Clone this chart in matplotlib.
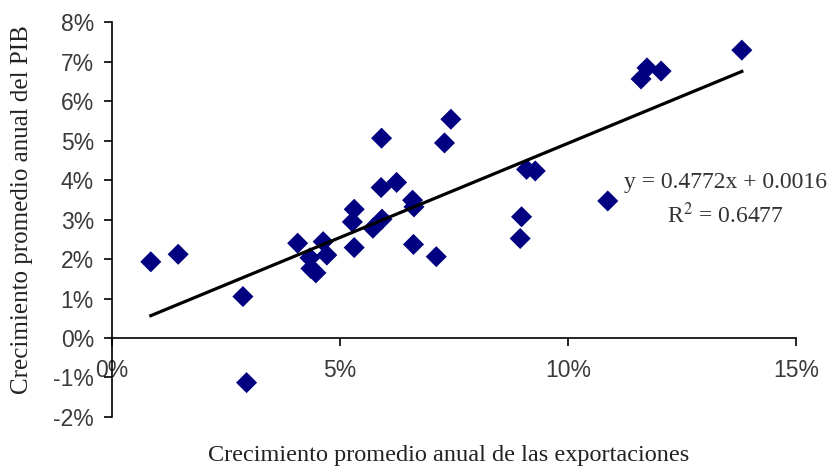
import numpy as np
import matplotlib
matplotlib.use("Agg")
import matplotlib.pyplot as plt
from matplotlib.ticker import PercentFormatter

plt.rcParams["axes.unicode_minus"] = False
plt.rcParams["mathtext.fontset"] = "stix"

# crecimiento promedio anual de exportaciones (x) y del PIB (y), en fracciones
export_growth = [0.0085, 0.0145, 0.0287, 0.0295, 0.0407, 0.0463, 0.0471, 0.0434,
                 0.0436, 0.0447, 0.0531, 0.0531, 0.0527, 0.0572, 0.0592, 0.0661,
                 0.0711, 0.0591, 0.0729, 0.0743, 0.0590, 0.0624, 0.0659, 0.0662,
                 0.1381, 0.1173, 0.1160, 0.1204, 0.0909, 0.0928, 0.1087, 0.0898,
                 0.0895]
gdp_growth = [0.0193, 0.0212, 0.0105, -0.0113, 0.0240, 0.0244, 0.0210, 0.0203,
              0.0176, 0.0165, 0.0229, 0.0326, 0.0294, 0.0278, 0.0301, 0.0237,
              0.0206, 0.0506, 0.0494, 0.0554, 0.0381, 0.0394, 0.0349, 0.0332,
              0.0729, 0.0684, 0.0656, 0.0676, 0.0427, 0.0423, 0.0347, 0.0307,
              0.0252]

slope, intercept, r2 = 0.4772, 0.0016, 0.6477

fig = plt.figure(figsize=(8.38, 4.70), dpi=100)
ax = fig.add_axes([0.1337, 0.1128, 0.8163, 0.8402])

ax.scatter(export_growth, gdp_growth, marker="D", s=115, color="#000080",
           edgecolors="none", zorder=3)

xl = np.array([min(export_growth), max(export_growth)])
ax.plot(xl, slope * xl + intercept, color="black", lw=2.3, zorder=4)

ax.set_xlim(0, 0.15)
ax.set_ylim(-0.02, 0.08)
ax.set_xticks([0, 0.05, 0.10, 0.15])
ax.set_yticks(np.arange(-0.02, 0.081, 0.01))
ax.xaxis.set_major_formatter(PercentFormatter(1.0, decimals=0))
ax.yaxis.set_major_formatter(PercentFormatter(1.0, decimals=0))

for s in ["top", "right"]:
    ax.spines[s].set_visible(False)
ax.spines["bottom"].set_position(("data", 0))
ax.spines["left"].set_linewidth(1.2)
ax.spines["bottom"].set_linewidth(1.2)
ax.tick_params(axis="both", direction="out", length=6, width=1.2,
               labelsize=16.5, labelcolor="#3a3a3a")
ax.tick_params(axis="x", pad=9)
ax.tick_params(axis="y", pad=7)
for lab in ax.get_xticklabels() + ax.get_yticklabels():
    lab.set_family("Liberation Sans")

serif = "Liberation Serif"
fig.text(0.535, 0.03, "Crecimiento promedio anual de las exportaciones",
         ha="center", va="center", family=serif, fontsize=17.5, color="#222222")
fig.text(0.026, 0.555, "Crecimiento promedio anual del PIB", rotation=90,
         ha="center", va="center", family=serif, fontsize=18, color="#222222")

ax.text(0.1345, 0.0395, "y = %.4fx + %.4f" % (slope, intercept), ha="center",
        va="center", family=serif, fontsize=17, color="#333333")
ax.text(0.1345, 0.0310, "R$^2$ = %.4f" % r2, ha="center", va="center",
        family=serif, fontsize=17, color="#333333")

fig.savefig("out.png", dpi=100)
